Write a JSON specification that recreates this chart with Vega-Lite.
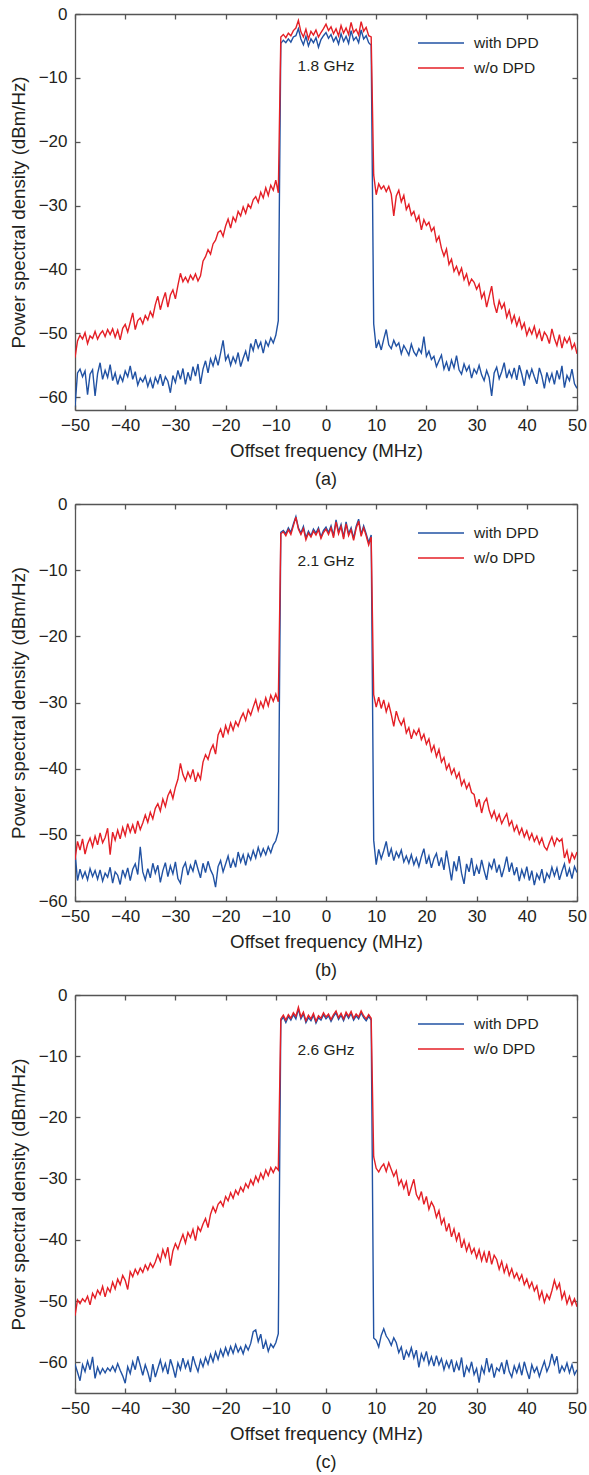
{
"$schema":"https://vega.github.io/schema/vega-lite/v6.json",
"padding":{"left":9,"top":5,"right":5,"bottom":5},
"config":{
 "font":"Liberation Sans",
 "view":{"stroke":null},
 "axis":{"labelFont":"Liberation Sans","titleFont":"Liberation Sans","labelFontSize":17,"titleFontSize":18.7,"titleFontWeight":"normal","labelColor":"#231f20","titleColor":"#231f20","domainColor":"#555555","tickColor":"#555555","domainWidth":1.3,"tickWidth":1.3,"tickSize":-5,"grid":false,"labelFlush":false},
 "axisX":{"labelPadding":12,"titlePadding":8},
 "axisY":{"labelPadding":13,"titlePadding":10},
 "legend":{"orient":"none","legendX":355,"legendY":18,"symbolType":"M-2.3,0L2.3,0","symbolSize":400,"symbolStrokeWidth":1.5,"symbolFillColor":"transparent","labelFont":"Liberation Sans","labelFontSize":15.5,"labelColor":"#231f20","labelOffset":22,"rowPadding":5,"title":null,"padding":0},
 "title":{"orient":"bottom","fontSize":18,"fontWeight":"normal","color":"#231f20","offset":11,"anchor":"middle","frame":"group","font":"Liberation Sans"},
 "text":{"font":"Liberation Sans","color":"#231f20"}
},
"data":{"name":"psd"},
"datasets":{"psd":[
{"f":-50,"aw":-61.5,"ao":-53.8,"bw":-52.6,"bo":-53.8,"cw":-60.3,"co":-52.4},
{"f":-49.5,"aw":-56.2,"ao":-51.2,"bw":-56.9,"bo":-51.0,"cw":-61.6,"co":-49.8},
{"f":-49,"aw":-55.6,"ao":-50.3,"bw":-55.2,"bo":-52.3,"cw":-63.0,"co":-50.4},
{"f":-48.5,"aw":-56.8,"ao":-50.9,"bw":-56.5,"bo":-50.6,"cw":-60.4,"co":-49.6},
{"f":-48,"aw":-55.9,"ao":-49.9,"bw":-55.6,"bo":-52.9,"cw":-61.5,"co":-50.1},
{"f":-47.5,"aw":-59.6,"ao":-51.6,"bw":-56.8,"bo":-51.4,"cw":-59.8,"co":-49.2},
{"f":-47,"aw":-56.4,"ao":-50.4,"bw":-55.1,"bo":-50.5,"cw":-61.2,"co":-50.6},
{"f":-46.5,"aw":-55.7,"ao":-50.8,"bw":-56.3,"bo":-51.8,"cw":-59.1,"co":-48.7},
{"f":-46,"aw":-59.8,"ao":-49.7,"bw":-55.4,"bo":-50.2,"cw":-62.6,"co":-49.5},
{"f":-45.5,"aw":-56.3,"ao":-50.9,"bw":-56.7,"bo":-51.5,"cw":-60.8,"co":-48.2},
{"f":-45,"aw":-54.6,"ao":-50.1,"bw":-55.3,"bo":-49.7,"cw":-61.9,"co":-48.9},
{"f":-44.5,"aw":-57.2,"ao":-49.6,"bw":-57.0,"bo":-51.2,"cw":-61.0,"co":-47.6},
{"f":-44,"aw":-55.8,"ao":-50.5,"bw":-55.8,"bo":-50.4,"cw":-61.7,"co":-49.3},
{"f":-43.5,"aw":-56.9,"ao":-49.4,"bw":-56.4,"bo":-49.0,"cw":-60.9,"co":-47.8},
{"f":-43,"aw":-54.9,"ao":-50.2,"bw":-54.9,"bo":-53.0,"cw":-61.4,"co":-48.5},
{"f":-42.5,"aw":-57.4,"ao":-49.3,"bw":-57.3,"bo":-49.6,"cw":-60.6,"co":-46.9},
{"f":-42,"aw":-56.2,"ao":-50.6,"bw":-55.6,"bo":-50.8,"cw":-61.5,"co":-48.0},
{"f":-41.5,"aw":-58.0,"ao":-49.5,"bw":-56.1,"bo":-49.3,"cw":-60.2,"co":-46.4},
{"f":-41,"aw":-56.6,"ao":-51.0,"bw":-57.5,"bo":-50.6,"cw":-61.3,"co":-47.3},
{"f":-40.5,"aw":-57.5,"ao":-49.2,"bw":-55.3,"bo":-48.9,"cw":-62.2,"co":-45.8},
{"f":-40,"aw":-55.9,"ao":-48.6,"bw":-56.4,"bo":-50.1,"cw":-63.4,"co":-46.6},
{"f":-39.5,"aw":-56.8,"ao":-49.8,"bw":-55.0,"bo":-48.3,"cw":-60.7,"co":-48.1},
{"f":-39,"aw":-55.1,"ao":-48.3,"bw":-56.9,"bo":-49.6,"cw":-61.8,"co":-45.2},
{"f":-38.5,"aw":-57.2,"ao":-46.8,"bw":-55.2,"bo":-48.5,"cw":-59.9,"co":-46.0},
{"f":-38,"aw":-56.0,"ao":-49.4,"bw":-54.4,"bo":-49.8,"cw":-61.2,"co":-44.8},
{"f":-37.5,"aw":-58.1,"ao":-48.0,"bw":-56.0,"bo":-47.9,"cw":-59.0,"co":-45.6},
{"f":-37,"aw":-57.0,"ao":-47.6,"bw":-51.8,"bo":-49.2,"cw":-60.5,"co":-44.6},
{"f":-36.5,"aw":-57.6,"ao":-48.5,"bw":-55.6,"bo":-48.2,"cw":-62.1,"co":-45.3},
{"f":-36,"aw":-56.7,"ao":-47.2,"bw":-56.8,"bo":-47.0,"cw":-60.4,"co":-44.1},
{"f":-35.5,"aw":-58.3,"ao":-47.9,"bw":-55.1,"bo":-48.1,"cw":-61.6,"co":-44.9},
{"f":-35,"aw":-57.1,"ao":-46.6,"bw":-56.5,"bo":-46.6,"cw":-63.2,"co":-43.8},
{"f":-34.5,"aw":-58.6,"ao":-47.4,"bw":-54.3,"bo":-47.6,"cw":-60.3,"co":-44.5},
{"f":-34,"aw":-56.9,"ao":-45.5,"bw":-55.8,"bo":-46.0,"cw":-62.4,"co":-43.6},
{"f":-33.5,"aw":-57.8,"ao":-44.2,"bw":-54.6,"bo":-45.3,"cw":-61.0,"co":-42.4},
{"f":-33,"aw":-56.4,"ao":-46.3,"bw":-57.2,"bo":-46.4,"cw":-59.6,"co":-43.5},
{"f":-32.5,"aw":-58.2,"ao":-44.8,"bw":-55.4,"bo":-44.6,"cw":-61.4,"co":-41.6},
{"f":-32,"aw":-56.8,"ao":-43.6,"bw":-54.2,"bo":-45.7,"cw":-60.2,"co":-42.8},
{"f":-31.5,"aw":-57.5,"ao":-45.9,"bw":-56.3,"bo":-44.1,"cw":-61.9,"co":-41.2},
{"f":-31,"aw":-59.3,"ao":-44.0,"bw":-54.7,"bo":-43.3,"cw":-59.5,"co":-44.2},
{"f":-30.5,"aw":-56.6,"ao":-43.2,"bw":-55.9,"bo":-44.5,"cw":-60.8,"co":-41.8},
{"f":-30,"aw":-57.7,"ao":-44.6,"bw":-54.1,"bo":-42.8,"cw":-62.5,"co":-40.6},
{"f":-29.5,"aw":-55.8,"ao":-42.5,"bw":-56.6,"bo":-41.6,"cw":-60.1,"co":-41.5},
{"f":-29,"aw":-57.2,"ao":-40.6,"bw":-57.3,"bo":-39.2,"cw":-61.2,"co":-40.2},
{"f":-28.5,"aw":-55.5,"ao":-41.9,"bw":-55.0,"bo":-40.9,"cw":-59.3,"co":-39.1},
{"f":-28,"aw":-58.0,"ao":-41.2,"bw":-54.2,"bo":-41.8,"cw":-60.9,"co":-40.5},
{"f":-27.5,"aw":-56.1,"ao":-42.0,"bw":-56.1,"bo":-40.5,"cw":-59.8,"co":-38.8},
{"f":-27,"aw":-57.4,"ao":-40.9,"bw":-54.6,"bo":-41.4,"cw":-61.6,"co":-39.6},
{"f":-26.5,"aw":-55.2,"ao":-41.6,"bw":-55.5,"bo":-40.1,"cw":-59.0,"co":-38.3},
{"f":-26,"aw":-56.7,"ao":-40.7,"bw":-53.8,"bo":-42.0,"cw":-60.4,"co":-40.1},
{"f":-25.5,"aw":-54.8,"ao":-41.8,"bw":-55.2,"bo":-40.7,"cw":-61.5,"co":-37.9},
{"f":-25,"aw":-57.9,"ao":-41.0,"bw":-56.5,"bo":-41.6,"cw":-59.6,"co":-38.6},
{"f":-24.5,"aw":-55.6,"ao":-38.7,"bw":-54.3,"bo":-39.0,"cw":-60.7,"co":-37.4},
{"f":-24,"aw":-54.3,"ao":-38.0,"bw":-55.7,"bo":-37.9,"cw":-59.2,"co":-36.5},
{"f":-23.5,"aw":-56.2,"ao":-36.9,"bw":-54.0,"bo":-38.6,"cw":-60.3,"co":-38.0},
{"f":-23,"aw":-54.0,"ao":-37.6,"bw":-55.3,"bo":-37.2,"cw":-58.7,"co":-35.8},
{"f":-22.5,"aw":-55.1,"ao":-36.0,"bw":-56.1,"bo":-36.4,"cw":-59.9,"co":-34.6},
{"f":-22,"aw":-53.6,"ao":-35.4,"bw":-57.9,"bo":-37.8,"cw":-58.3,"co":-35.5},
{"f":-21.5,"aw":-55.0,"ao":-34.2,"bw":-54.8,"bo":-34.9,"cw":-59.5,"co":-34.2},
{"f":-21,"aw":-53.1,"ao":-33.9,"bw":-53.9,"bo":-34.0,"cw":-57.9,"co":-33.7},
{"f":-20.5,"aw":-51.1,"ao":-34.8,"bw":-55.6,"bo":-35.3,"cw":-59.0,"co":-34.5},
{"f":-20,"aw":-54.2,"ao":-33.2,"bw":-54.4,"bo":-33.5,"cw":-57.6,"co":-32.9},
{"f":-19.5,"aw":-53.4,"ao":-32.1,"bw":-53.2,"bo":-34.6,"cw":-58.8,"co":-33.6},
{"f":-19,"aw":-55.0,"ao":-33.5,"bw":-55.0,"bo":-33.1,"cw":-57.4,"co":-32.3},
{"f":-18.5,"aw":-53.7,"ao":-31.8,"bw":-53.7,"bo":-34.2,"cw":-58.5,"co":-33.2},
{"f":-18,"aw":-54.6,"ao":-32.5,"bw":-54.9,"bo":-32.9,"cw":-57.1,"co":-31.9},
{"f":-17.5,"aw":-53.0,"ao":-30.9,"bw":-52.6,"bo":-33.6,"cw":-58.3,"co":-32.6},
{"f":-17,"aw":-55.2,"ao":-31.6,"bw":-54.1,"bo":-32.4,"cw":-57.5,"co":-31.4},
{"f":-16.5,"aw":-53.9,"ao":-30.2,"bw":-53.0,"bo":-31.6,"cw":-58.6,"co":-32.1},
{"f":-16,"aw":-52.8,"ao":-31.2,"bw":-54.6,"bo":-32.7,"cw":-57.2,"co":-30.8},
{"f":-15.5,"aw":-54.4,"ao":-29.8,"bw":-52.9,"bo":-31.1,"cw":-58.0,"co":-31.5},
{"f":-15,"aw":-51.6,"ao":-30.4,"bw":-53.8,"bo":-31.9,"cw":-56.9,"co":-30.2},
{"f":-14.5,"aw":-52.7,"ao":-29.1,"bw":-52.4,"bo":-30.7,"cw":-55.0,"co":-31.0},
{"f":-14,"aw":-50.9,"ao":-28.6,"bw":-53.5,"bo":-29.6,"cw":-54.7,"co":-29.6},
{"f":-13.5,"aw":-52.3,"ao":-29.5,"bw":-51.9,"bo":-31.2,"cw":-56.6,"co":-30.5},
{"f":-13,"aw":-51.4,"ao":-27.9,"bw":-53.2,"bo":-29.9,"cw":-55.4,"co":-29.1},
{"f":-12.5,"aw":-53.1,"ao":-28.8,"bw":-52.1,"bo":-30.8,"cw":-57.8,"co":-30.0},
{"f":-12,"aw":-51.2,"ao":-27.2,"bw":-53.0,"bo":-29.3,"cw":-56.5,"co":-28.6},
{"f":-11.5,"aw":-52.0,"ao":-28.4,"bw":-51.8,"bo":-30.5,"cw":-58.2,"co":-29.5},
{"f":-11,"aw":-50.7,"ao":-26.8,"bw":-52.7,"bo":-28.9,"cw":-57.0,"co":-28.2},
{"f":-10.5,"aw":-51.5,"ao":-27.6,"bw":-51.5,"bo":-29.8,"cw":-57.6,"co":-29.0},
{"f":-10,"aw":-50.3,"ao":-26.0,"bw":-50.9,"bo":-28.7,"cw":-56.8,"co":-28.1},
{"f":-9.5,"aw":-48.0,"ao":-28.0,"bw":-49.5,"bo":-29.9,"cw":-55.3,"co":-28.6},
{"f":-9,"aw":-4.6,"ao":-3.6,"bw":-4.3,"bo":-4.5,"cw":-4.2,"co":-3.9},
{"f":-8.5,"aw":-4.1,"ao":-3.2,"bw":-4.0,"bo":-4.2,"cw":-3.6,"co":-3.3},
{"f":-8,"aw":-4.5,"ao":-3.7,"bw":-4.5,"bo":-4.8,"cw":-4.5,"co":-4.1},
{"f":-7.5,"aw":-3.9,"ao":-3.0,"bw":-3.6,"bo":-3.9,"cw":-3.5,"co":-3.2},
{"f":-7,"aw":-4.4,"ao":-3.4,"bw":-4.3,"bo":-4.6,"cw":-4.1,"co":-3.8},
{"f":-6.5,"aw":-3.6,"ao":-2.6,"bw":-3.0,"bo":-3.3,"cw":-3.2,"co":-2.9},
{"f":-6,"aw":-3.4,"ao":-2.2,"bw":-1.9,"bo":-2.0,"cw":-3.9,"co":-3.5},
{"f":-5.5,"aw":-2.3,"ao":-1.0,"bw":-3.6,"bo":-3.8,"cw":-2.3,"co":-2.0},
{"f":-5,"aw":-3.9,"ao":-2.8,"bw":-4.4,"bo":-4.6,"cw":-3.9,"co":-3.6},
{"f":-4.5,"aw":-4.8,"ao":-3.6,"bw":-3.4,"bo":-3.7,"cw":-3.1,"co":-2.8},
{"f":-4,"aw":-3.5,"ao":-2.4,"bw":-5.1,"bo":-5.4,"cw":-4.5,"co":-4.2},
{"f":-3.5,"aw":-5.0,"ao":-3.9,"bw":-4.1,"bo":-4.4,"cw":-3.7,"co":-3.3},
{"f":-3,"aw":-3.9,"ao":-2.7,"bw":-4.8,"bo":-5.0,"cw":-4.2,"co":-3.9},
{"f":-2.5,"aw":-4.5,"ao":-3.3,"bw":-3.8,"bo":-4.1,"cw":-3.3,"co":-3.0},
{"f":-2,"aw":-3.7,"ao":-2.5,"bw":-4.4,"bo":-4.7,"cw":-4.6,"co":-4.3},
{"f":-1.5,"aw":-5.2,"ao":-3.6,"bw":-3.6,"bo":-3.9,"cw":-3.7,"co":-3.4},
{"f":-1,"aw":-4.0,"ao":-2.9,"bw":-5.0,"bo":-5.2,"cw":-4.1,"co":-3.8},
{"f":-0.5,"aw":-3.4,"ao":-2.3,"bw":-4.0,"bo":-4.3,"cw":-3.2,"co":-2.9},
{"f":0,"aw":-2.9,"ao":-1.6,"bw":-3.5,"bo":-3.8,"cw":-3.9,"co":-3.6},
{"f":0.5,"aw":-3.8,"ao":-2.6,"bw":-4.3,"bo":-4.6,"cw":-3.4,"co":-3.1},
{"f":1,"aw":-3.2,"ao":-2.0,"bw":-3.3,"bo":-3.6,"cw":-4.3,"co":-4.0},
{"f":1.5,"aw":-4.3,"ao":-3.1,"bw":-4.8,"bo":-5.1,"cw":-3.5,"co":-3.2},
{"f":2,"aw":-3.6,"ao":-2.3,"bw":-2.4,"bo":-2.7,"cw":-2.9,"co":-2.6},
{"f":2.5,"aw":-4.7,"ao":-3.4,"bw":-4.2,"bo":-4.5,"cw":-4.0,"co":-3.7},
{"f":3,"aw":-3.1,"ao":-1.8,"bw":-3.1,"bo":-3.4,"cw":-3.3,"co":-3.0},
{"f":3.5,"aw":-4.3,"ao":-3.0,"bw":-5.0,"bo":-5.3,"cw":-4.2,"co":-3.9},
{"f":4,"aw":-3.5,"ao":-2.2,"bw":-2.7,"bo":-3.0,"cw":-3.1,"co":-2.8},
{"f":4.5,"aw":-4.6,"ao":-3.2,"bw":-4.5,"bo":-4.8,"cw":-3.8,"co":-3.5},
{"f":5,"aw":-2.6,"ao":-1.3,"bw":-3.6,"bo":-3.9,"cw":-3.0,"co":-2.7},
{"f":5.5,"aw":-4.1,"ao":-2.9,"bw":-5.2,"bo":-5.5,"cw":-4.1,"co":-3.8},
{"f":6,"aw":-3.6,"ao":-2.4,"bw":-3.4,"bo":-3.7,"cw":-3.4,"co":-3.1},
{"f":6.5,"aw":-4.5,"ao":-3.3,"bw":-2.3,"bo":-2.6,"cw":-3.9,"co":-3.6},
{"f":7,"aw":-2.5,"ao":-1.2,"bw":-4.6,"bo":-4.9,"cw":-2.9,"co":-2.6},
{"f":7.5,"aw":-3.9,"ao":-2.7,"bw":-3.3,"bo":-3.6,"cw":-3.7,"co":-3.4},
{"f":8,"aw":-3.4,"ao":-2.1,"bw":-4.5,"bo":-4.8,"cw":-4.2,"co":-3.9},
{"f":8.5,"aw":-4.5,"ao":-3.4,"bw":-5.8,"bo":-6.2,"cw":-3.5,"co":-3.2},
{"f":9,"aw":-4.9,"ao":-3.6,"bw":-4.7,"bo":-5.0,"cw":-4.1,"co":-3.8},
{"f":9.5,"aw":-48.5,"ao":-25.2,"bw":-50.8,"bo":-28.8,"cw":-56.0,"co":-26.4},
{"f":10,"aw":-52.3,"ao":-28.3,"bw":-54.5,"bo":-30.7,"cw":-56.4,"co":-28.3},
{"f":10.5,"aw":-51.2,"ao":-26.6,"bw":-52.2,"bo":-29.2,"cw":-57.5,"co":-28.9},
{"f":11,"aw":-52.6,"ao":-27.4,"bw":-53.6,"bo":-30.9,"cw":-55.6,"co":-28.1},
{"f":11.5,"aw":-50.9,"ao":-26.9,"bw":-52.4,"bo":-29.6,"cw":-54.5,"co":-27.6},
{"f":12,"aw":-49.4,"ao":-27.8,"bw":-51.0,"bo":-31.4,"cw":-55.7,"co":-28.8},
{"f":12.5,"aw":-51.8,"ao":-27.0,"bw":-53.3,"bo":-30.2,"cw":-56.3,"co":-27.4},
{"f":13,"aw":-52.4,"ao":-28.2,"bw":-52.1,"bo":-31.8,"cw":-57.2,"co":-28.5},
{"f":13.5,"aw":-51.1,"ao":-31.6,"bw":-53.9,"bo":-33.6,"cw":-56.0,"co":-29.6},
{"f":14,"aw":-52.0,"ao":-28.5,"bw":-52.6,"bo":-31.3,"cw":-56.8,"co":-28.7},
{"f":14.5,"aw":-51.5,"ao":-27.6,"bw":-53.4,"bo":-32.6,"cw":-58.4,"co":-31.0},
{"f":15,"aw":-53.2,"ao":-29.4,"bw":-52.3,"bo":-33.4,"cw":-57.5,"co":-30.2},
{"f":15.5,"aw":-51.9,"ao":-28.4,"bw":-54.1,"bo":-32.5,"cw":-59.6,"co":-31.6},
{"f":16,"aw":-52.6,"ao":-30.6,"bw":-53.2,"bo":-34.6,"cw":-58.1,"co":-30.5},
{"f":16.5,"aw":-53.4,"ao":-29.8,"bw":-54.3,"bo":-33.8,"cw":-59.0,"co":-32.8},
{"f":17,"aw":-51.7,"ao":-31.5,"bw":-53.0,"bo":-35.5,"cw":-57.6,"co":-31.4},
{"f":17.5,"aw":-52.9,"ao":-30.9,"bw":-54.5,"bo":-34.2,"cw":-59.3,"co":-30.1},
{"f":18,"aw":-53.5,"ao":-32.4,"bw":-53.5,"bo":-34.9,"cw":-58.0,"co":-32.6},
{"f":18.5,"aw":-52.4,"ao":-31.6,"bw":-54.8,"bo":-34.0,"cw":-60.8,"co":-33.4},
{"f":19,"aw":-53.1,"ao":-33.8,"bw":-53.3,"bo":-35.6,"cw":-58.6,"co":-32.1},
{"f":19.5,"aw":-50.5,"ao":-32.2,"bw":-52.1,"bo":-34.8,"cw":-59.7,"co":-34.2},
{"f":20,"aw":-53.6,"ao":-33.1,"bw":-54.4,"bo":-36.3,"cw":-58.2,"co":-32.9},
{"f":20.5,"aw":-52.8,"ao":-32.6,"bw":-53.2,"bo":-35.5,"cw":-60.3,"co":-35.0},
{"f":21,"aw":-54.1,"ao":-34.0,"bw":-55.0,"bo":-37.4,"cw":-59.1,"co":-33.8},
{"f":21.5,"aw":-53.6,"ao":-33.4,"bw":-53.6,"bo":-36.5,"cw":-60.6,"co":-34.6},
{"f":22,"aw":-55.2,"ao":-35.6,"bw":-52.8,"bo":-38.2,"cw":-58.9,"co":-36.3},
{"f":22.5,"aw":-54.3,"ao":-34.8,"bw":-54.7,"bo":-37.1,"cw":-60.4,"co":-35.2},
{"f":23,"aw":-53.4,"ao":-36.7,"bw":-53.4,"bo":-39.0,"cw":-59.4,"co":-37.4},
{"f":23.5,"aw":-55.6,"ao":-37.9,"bw":-55.3,"bo":-38.3,"cw":-61.2,"co":-36.5},
{"f":24,"aw":-54.5,"ao":-36.8,"bw":-52.4,"bo":-40.1,"cw":-59.8,"co":-38.6},
{"f":24.5,"aw":-55.9,"ao":-39.2,"bw":-54.6,"bo":-39.3,"cw":-60.9,"co":-37.3},
{"f":25,"aw":-54.2,"ao":-38.4,"bw":-56.9,"bo":-40.8,"cw":-59.5,"co":-39.5},
{"f":25.5,"aw":-55.4,"ao":-40.3,"bw":-54.0,"bo":-40.0,"cw":-61.6,"co":-38.2},
{"f":26,"aw":-53.5,"ao":-39.5,"bw":-55.5,"bo":-41.4,"cw":-60.0,"co":-40.1},
{"f":26.5,"aw":-55.7,"ao":-40.8,"bw":-53.2,"bo":-40.6,"cw":-61.3,"co":-38.8},
{"f":27,"aw":-56.4,"ao":-39.8,"bw":-55.8,"bo":-42.5,"cw":-59.2,"co":-41.3},
{"f":27.5,"aw":-54.8,"ao":-41.6,"bw":-57.4,"bo":-41.7,"cw":-62.4,"co":-40.0},
{"f":28,"aw":-55.9,"ao":-40.7,"bw":-54.4,"bo":-43.0,"cw":-60.6,"co":-41.8},
{"f":28.5,"aw":-55.1,"ao":-42.4,"bw":-55.6,"bo":-42.2,"cw":-61.5,"co":-40.6},
{"f":29,"aw":-57.0,"ao":-41.5,"bw":-53.5,"bo":-43.6,"cw":-59.9,"co":-42.2},
{"f":29.5,"aw":-55.6,"ao":-42.0,"bw":-56.2,"bo":-43.9,"cw":-62.0,"co":-41.4},
{"f":30,"aw":-56.3,"ao":-43.1,"bw":-54.7,"bo":-45.8,"cw":-61.0,"co":-42.9},
{"f":30.5,"aw":-55.0,"ao":-42.3,"bw":-55.9,"bo":-44.6,"cw":-63.3,"co":-41.6},
{"f":31,"aw":-56.5,"ao":-44.5,"bw":-53.8,"bo":-46.7,"cw":-60.7,"co":-43.4},
{"f":31.5,"aw":-57.4,"ao":-43.6,"bw":-55.4,"bo":-45.1,"cw":-61.8,"co":-42.0},
{"f":32,"aw":-55.8,"ao":-45.9,"bw":-56.8,"bo":-44.5,"cw":-59.3,"co":-43.7},
{"f":32.5,"aw":-56.9,"ao":-44.2,"bw":-54.3,"bo":-46.3,"cw":-61.6,"co":-41.8},
{"f":33,"aw":-59.8,"ao":-42.6,"bw":-55.1,"bo":-47.4,"cw":-60.2,"co":-44.0},
{"f":33.5,"aw":-56.2,"ao":-45.4,"bw":-53.6,"bo":-46.4,"cw":-62.5,"co":-42.5},
{"f":34,"aw":-55.3,"ao":-46.8,"bw":-55.7,"bo":-47.8,"cw":-60.9,"co":-43.2},
{"f":34.5,"aw":-57.1,"ao":-44.9,"bw":-54.5,"bo":-46.9,"cw":-61.4,"co":-44.8},
{"f":35,"aw":-56.0,"ao":-46.1,"bw":-56.4,"bo":-48.3,"cw":-60.0,"co":-43.5},
{"f":35.5,"aw":-54.6,"ao":-45.3,"bw":-55.0,"bo":-47.5,"cw":-61.9,"co":-45.3},
{"f":36,"aw":-57.0,"ao":-47.5,"bw":-53.3,"bo":-46.8,"cw":-59.6,"co":-44.1},
{"f":36.5,"aw":-55.8,"ao":-46.4,"bw":-55.6,"bo":-48.6,"cw":-61.5,"co":-45.8},
{"f":37,"aw":-56.9,"ao":-48.3,"bw":-54.2,"bo":-47.9,"cw":-62.4,"co":-44.7},
{"f":37.5,"aw":-55.4,"ao":-47.2,"bw":-56.1,"bo":-49.4,"cw":-60.6,"co":-46.2},
{"f":38,"aw":-57.3,"ao":-48.8,"bw":-54.9,"bo":-48.6,"cw":-61.7,"co":-45.4},
{"f":38.5,"aw":-55.0,"ao":-47.6,"bw":-57.0,"bo":-49.9,"cw":-60.3,"co":-46.6},
{"f":39,"aw":-56.4,"ao":-49.3,"bw":-55.3,"bo":-49.0,"cw":-62.1,"co":-45.7},
{"f":39.5,"aw":-58.2,"ao":-48.4,"bw":-56.4,"bo":-50.3,"cw":-59.9,"co":-47.3},
{"f":40,"aw":-55.7,"ao":-50.3,"bw":-54.8,"bo":-49.4,"cw":-61.4,"co":-46.4},
{"f":40.5,"aw":-57.0,"ao":-49.2,"bw":-56.9,"bo":-50.7,"cw":-62.7,"co":-47.8},
{"f":41,"aw":-55.6,"ao":-50.1,"bw":-55.4,"bo":-49.8,"cw":-60.4,"co":-46.9},
{"f":41.5,"aw":-56.8,"ao":-48.9,"bw":-57.6,"bo":-51.0,"cw":-61.6,"co":-48.3},
{"f":42,"aw":-57.9,"ao":-50.6,"bw":-55.9,"bo":-50.2,"cw":-60.8,"co":-47.5},
{"f":42.5,"aw":-55.4,"ao":-49.5,"bw":-56.7,"bo":-51.4,"cw":-62.3,"co":-49.6},
{"f":43,"aw":-56.7,"ao":-51.2,"bw":-55.2,"bo":-50.5,"cw":-61.0,"co":-48.4},
{"f":43.5,"aw":-58.6,"ao":-49.8,"bw":-57.3,"bo":-51.8,"cw":-59.8,"co":-50.2},
{"f":44,"aw":-56.1,"ao":-50.4,"bw":-55.8,"bo":-52.3,"cw":-61.5,"co":-48.9},
{"f":44.5,"aw":-57.5,"ao":-51.6,"bw":-56.5,"bo":-51.2,"cw":-60.5,"co":-49.7},
{"f":45,"aw":-56.3,"ao":-49.3,"bw":-54.9,"bo":-50.3,"cw":-58.6,"co":-48.3},
{"f":45.5,"aw":-58.0,"ao":-50.8,"bw":-56.2,"bo":-51.6,"cw":-60.3,"co":-46.6},
{"f":46,"aw":-55.8,"ao":-51.9,"bw":-55.0,"bo":-50.5,"cw":-59.0,"co":-48.0},
{"f":46.5,"aw":-57.2,"ao":-50.2,"bw":-56.8,"bo":-51.0,"cw":-61.8,"co":-47.1},
{"f":47,"aw":-55.1,"ao":-52.3,"bw":-55.5,"bo":-50.6,"cw":-60.6,"co":-49.6},
{"f":47.5,"aw":-58.5,"ao":-50.7,"bw":-54.4,"bo":-53.5,"cw":-61.4,"co":-48.5},
{"f":48,"aw":-56.6,"ao":-51.5,"bw":-56.3,"bo":-52.4,"cw":-60.1,"co":-50.4},
{"f":48.5,"aw":-57.4,"ao":-50.6,"bw":-55.1,"bo":-54.3,"cw":-61.7,"co":-49.2},
{"f":49,"aw":-55.6,"ao":-52.4,"bw":-56.6,"bo":-52.8,"cw":-60.4,"co":-50.6},
{"f":49.5,"aw":-57.9,"ao":-51.6,"bw":-54.8,"bo":-53.6,"cw":-62.0,"co":-49.6},
{"f":50,"aw":-58.6,"ao":-53.2,"bw":-55.7,"bo":-52.6,"cw":-61.2,"co":-50.9}
]},
"spacing":6,
"vconcat":[
{
 "width":502,"height":396,
 "title":{"text":"(a)"},
 "layer":[
  {"transform":[{"fold":["aw","ao"],"as":["s","v"]}],
   "mark":{"type":"line","strokeWidth":1.4,"clip":true},
   "encoding":{
    "x":{"field":"f","type":"quantitative","scale":{"domain":[-50,50],"nice":false},"axis":{"orient":"bottom","values":[-50,-40,-30,-20,-10,0,10,20,30,40,50],"title":"Offset frequency (MHz)"}},
    "y":{"field":"v","type":"quantitative","scale":{"domain":[-62,0],"nice":false,"zero":false},"axis":{"orient":"left","values":[0,-10,-20,-30,-40,-50,-60],"title":"Power spectral density (dBm/Hz)"}},
    "color":{"field":"s","type":"nominal","scale":{"domain":["aw","ao"],"range":["#2152a3","#e41f26"]},"legend":{"labelExpr":"datum.label == 'aw' ? 'with DPD' : 'w/o DPD'"}}
   }},
  {"data":{"values":[{"f":0,"v":-8.1,"t":"1.8 GHz"}]},
   "mark":{"type":"text","fontSize":15.5},
   "encoding":{"x":{"field":"f","type":"quantitative","scale":{"domain":[-50,50],"nice":false},"axis":null},"y":{"field":"v","type":"quantitative","scale":{"domain":[-62,0],"nice":false,"zero":false},"axis":null},"text":{"field":"t"}}},
  {"data":{"values":[{"f":0,"v":-8.1}]},
   "mark":{"type":"point","opacity":0},
   "encoding":{"x":{"field":"f","type":"quantitative","scale":{"domain":[-50,50],"nice":false},"axis":{"orient":"top","labels":false,"title":null,"values":[-50,-40,-30,-20,-10,0,10,20,30,40,50]}},"y":{"field":"v","type":"quantitative","scale":{"domain":[-62,0],"nice":false,"zero":false},"axis":{"orient":"right","labels":false,"title":null,"values":[0,-10,-20,-30,-40,-50,-60]}}}}
 ],
 "resolve":{"axis":{"x":"independent","y":"independent"}}
},
{
 "width":502,"height":397,
 "title":{"text":"(b)"},
 "layer":[
  {"transform":[{"fold":["bw","bo"],"as":["s","v"]}],
   "mark":{"type":"line","strokeWidth":1.4,"clip":true},
   "encoding":{
    "x":{"field":"f","type":"quantitative","scale":{"domain":[-50,50],"nice":false},"axis":{"orient":"bottom","values":[-50,-40,-30,-20,-10,0,10,20,30,40,50],"title":"Offset frequency (MHz)"}},
    "y":{"field":"v","type":"quantitative","scale":{"domain":[-60,0],"nice":false,"zero":false},"axis":{"orient":"left","values":[0,-10,-20,-30,-40,-50,-60],"title":"Power spectral density (dBm/Hz)"}},
    "color":{"field":"s","type":"nominal","scale":{"domain":["bw","bo"],"range":["#2152a3","#e41f26"]},"legend":{"labelExpr":"datum.label == 'bw' ? 'with DPD' : 'w/o DPD'"}}
   }},
  {"data":{"values":[{"f":0,"v":-8.6,"t":"2.1 GHz"}]},
   "mark":{"type":"text","fontSize":15.5},
   "encoding":{"x":{"field":"f","type":"quantitative","scale":{"domain":[-50,50],"nice":false},"axis":null},"y":{"field":"v","type":"quantitative","scale":{"domain":[-60,0],"nice":false,"zero":false},"axis":null},"text":{"field":"t"}}},
  {"data":{"values":[{"f":0,"v":-8.6}]},
   "mark":{"type":"point","opacity":0},
   "encoding":{"x":{"field":"f","type":"quantitative","scale":{"domain":[-50,50],"nice":false},"axis":{"orient":"top","labels":false,"title":null,"values":[-50,-40,-30,-20,-10,0,10,20,30,40,50]}},"y":{"field":"v","type":"quantitative","scale":{"domain":[-60,0],"nice":false,"zero":false},"axis":{"orient":"right","labels":false,"title":null,"values":[0,-10,-20,-30,-40,-50,-60]}}}}
 ],
 "resolve":{"axis":{"x":"independent","y":"independent"}}
},
{
 "width":502,"height":398,
 "title":{"text":"(c)"},
 "layer":[
  {"transform":[{"fold":["cw","co"],"as":["s","v"]}],
   "mark":{"type":"line","strokeWidth":1.4,"clip":true},
   "encoding":{
    "x":{"field":"f","type":"quantitative","scale":{"domain":[-50,50],"nice":false},"axis":{"orient":"bottom","values":[-50,-40,-30,-20,-10,0,10,20,30,40,50],"title":"Offset frequency (MHz)"}},
    "y":{"field":"v","type":"quantitative","scale":{"domain":[-65,0],"nice":false,"zero":false},"axis":{"orient":"left","values":[0,-10,-20,-30,-40,-50,-60],"title":"Power spectral density (dBm/Hz)"}},
    "color":{"field":"s","type":"nominal","scale":{"domain":["cw","co"],"range":["#2152a3","#e41f26"]},"legend":{"labelExpr":"datum.label == 'cw' ? 'with DPD' : 'w/o DPD'"}}
   }},
  {"data":{"values":[{"f":0,"v":-9.0,"t":"2.6 GHz"}]},
   "mark":{"type":"text","fontSize":15.5},
   "encoding":{"x":{"field":"f","type":"quantitative","scale":{"domain":[-50,50],"nice":false},"axis":null},"y":{"field":"v","type":"quantitative","scale":{"domain":[-65,0],"nice":false,"zero":false},"axis":null},"text":{"field":"t"}}},
  {"data":{"values":[{"f":0,"v":-9.0}]},
   "mark":{"type":"point","opacity":0},
   "encoding":{"x":{"field":"f","type":"quantitative","scale":{"domain":[-50,50],"nice":false},"axis":{"orient":"top","labels":false,"title":null,"values":[-50,-40,-30,-20,-10,0,10,20,30,40,50]}},"y":{"field":"v","type":"quantitative","scale":{"domain":[-65,0],"nice":false,"zero":false},"axis":{"orient":"right","labels":false,"title":null,"values":[0,-10,-20,-30,-40,-50,-60]}}}}
 ],
 "resolve":{"axis":{"x":"independent","y":"independent"}}
}
],
"resolve":{"scale":{"color":"independent","x":"independent","y":"independent"},"legend":{"color":"independent"}}
}
